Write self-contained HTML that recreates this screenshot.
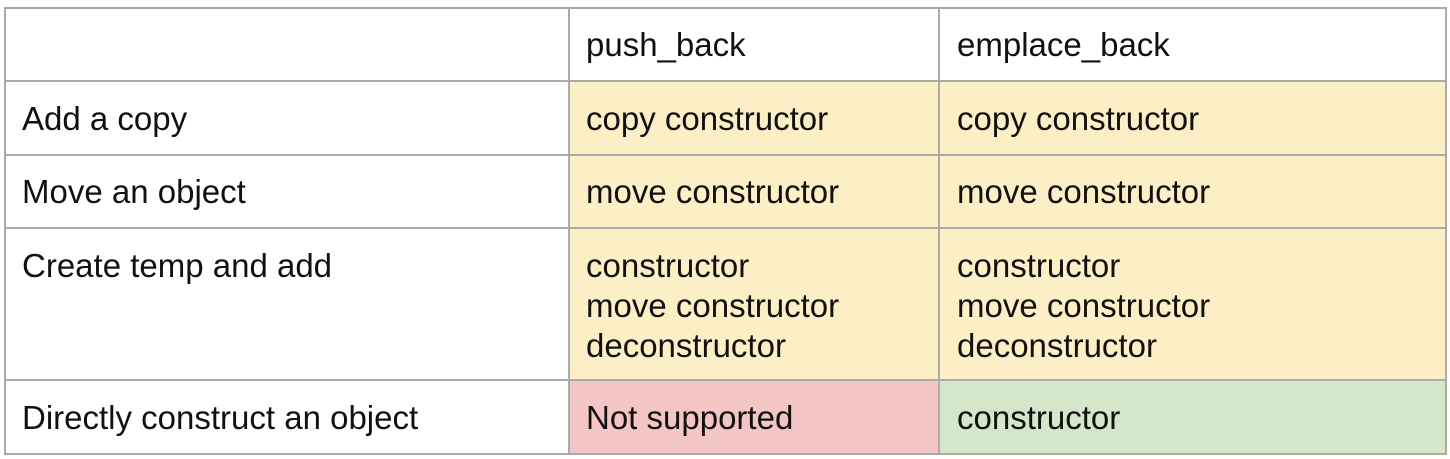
<!DOCTYPE html>
<html><head><style>
body{margin:0;width:1450px;height:459px;background:#fff;position:relative;overflow:hidden;font-family:"Liberation Sans",Arial,sans-serif;font-size:33px;color:#111}
.c{position:absolute;box-sizing:border-box}
.h{position:absolute;background:#aaa;height:2px}
.v{position:absolute;background:#aaa;width:2px}
.t{position:absolute;line-height:40px;white-space:nowrap}
</style></head><body>
<div class="c" style="left:570px;top:82px;width:370px;height:298px;background:#fcefc6"></div>
<div class="c" style="left:940px;top:82px;width:506px;height:298px;background:#fcefc6"></div>
<div class="c" style="left:570px;top:381px;width:370px;height:73px;background:#f3c6c5"></div>
<div class="c" style="left:940px;top:381px;width:506px;height:73px;background:#d5e7cb"></div>
<div class="h" style="left:4px;top:7px;width:1443px"></div>
<div class="h" style="left:4px;top:80px;width:1443px"></div>
<div class="h" style="left:4px;top:154px;width:1443px"></div>
<div class="h" style="left:4px;top:227px;width:1443px"></div>
<div class="h" style="left:4px;top:379px;width:1443px"></div>
<div class="h" style="left:4px;top:453px;width:1443px"></div>
<div class="v" style="left:4px;top:7px;height:448px"></div>
<div class="v" style="left:568px;top:7px;height:448px"></div>
<div class="v" style="left:938px;top:7px;height:448px"></div>
<div class="v" style="left:1445px;top:7px;height:448px"></div>
<div class="t" style="left:586px;top:25px">push_back</div>
<div class="t" style="left:957px;top:25px">emplace_back</div>
<div class="t" style="left:22px;top:99px">Add a copy</div>
<div class="t" style="left:586px;top:99px">copy constructor</div>
<div class="t" style="left:957px;top:99px">copy constructor</div>
<div class="t" style="left:22px;top:172px">Move an object</div>
<div class="t" style="left:586px;top:172px">move constructor</div>
<div class="t" style="left:957px;top:172px">move constructor</div>
<div class="t" style="left:22px;top:246px">Create temp and add</div>
<div class="t" style="left:586px;top:246px">constructor<br>move constructor<br>deconstructor</div>
<div class="t" style="left:957px;top:246px">constructor<br>move constructor<br>deconstructor</div>
<div class="t" style="left:22px;top:398px">Directly construct an object</div>
<div class="t" style="left:586px;top:398px">Not supported</div>
<div class="t" style="left:957px;top:398px">constructor</div>
</body></html>
